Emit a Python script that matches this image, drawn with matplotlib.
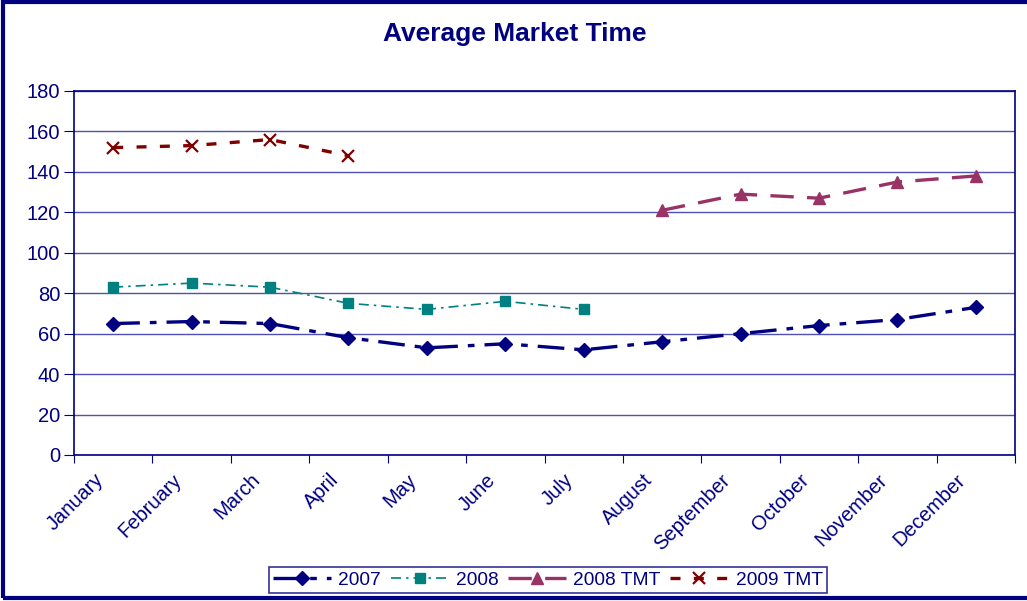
import numpy as np
import matplotlib.pyplot as plt
from matplotlib.patches import Rectangle

plt.rcParams['font.family'] = ['Liberation Sans', 'DejaVu Sans']

# --- data --- #
months = ['January', 'February', 'March', 'April', 'May', 'June', 'July',
          'August', 'September', 'October', 'November', 'December']
y2007 = [65, 66, 65, 58, 53, 55, 52, 56, 60, 64, 67, 73]
y2008 = [83, 85, 83, 75, 72, 76, 72]
y2008_tmt = [121, 129, 127, 135, 138]   # August..December
y2009_tmt = [152, 153, 156, 148]        # January..April

navy = '#000080'

fig = plt.figure(figsize=(10.27, 6.01), dpi=100)
ax = fig.add_axes([74 / 1027, 1 - 455 / 601, (1015 - 74) / 1027, (455 - 91) / 601])

x = np.arange(len(months))
ax.plot(x, y2007, color=navy, lw=2.4, dashes=(8, 3, 2, 3),
        marker='D', ms=7, label='2007')
ax.plot(x[:len(y2008)], y2008, color='#008080', lw=1.2, dashes=(6, 3, 1.5, 3),
        marker='s', ms=6.5, label='2008')
ax.plot(x[7:7 + len(y2008_tmt)], y2008_tmt, color='#993366', lw=2.4,
        dashes=(7, 4), marker='^', ms=9, label='2008 TMT')
ax.plot(x[:len(y2009_tmt)], y2009_tmt, color='#800000', lw=2.4,
        dashes=(3, 4), marker='x', ms=8.5, mew=1.6, label='2009 TMT')

ax.set_xlim(-0.5, len(months) - 0.5)
ax.set_ylim(0, 180)
ax.set_yticks(np.arange(0, 181, 20))
ax.grid(True, axis='y', color='#5050b0', lw=1)
ax.set_axisbelow(True)

# category boundary ticks, month labels drawn at centres
ax.set_xticks(np.arange(-0.5, len(months), 1))
ax.set_xticklabels([])
for i, m in enumerate(months):
    ax.annotate(m, xy=(x[i], 0), xycoords=ax.get_xaxis_transform(),
                xytext=(-13, -22), textcoords='offset pixels',
                rotation=45, ha='right', va='center', rotation_mode='anchor',
                fontsize=14.5, color=navy, annotation_clip=False)
ax.tick_params(axis='x', which='major', length=6, color=navy, direction='out')
ax.tick_params(axis='y', length=7, color=navy, labelsize=14.5,
               labelcolor=navy, pad=3)
for s in ax.spines.values():
    s.set_color(navy)
    s.set_linewidth(1.2)

fig.text(515 / 1027, 1 - 34 / 601, 'Average Market Time', ha='center',
         va='center', fontsize=19, fontweight='bold', color=navy)

leg = fig.legend(loc='center', bbox_to_anchor=(548 / 1027, 1 - 580 / 601),
                 ncol=4, fontsize=13.8, frameon=True, fancybox=False,
                 handlelength=3.0, columnspacing=0.5, handletextpad=0.4,
                 borderpad=0.2, borderaxespad=0)
leg.get_frame().set_edgecolor(navy)
leg.get_frame().set_linewidth(1.2)
for t in leg.get_texts():
    t.set_color(navy)

# outer chart border
fig.patches.append(Rectangle((3 / 1027, 3 / 601), 1.1, 1 - 5 / 601,
                             transform=fig.transFigure, fill=False,
                             edgecolor=navy, lw=3))

fig.savefig('out.png', dpi=100)
